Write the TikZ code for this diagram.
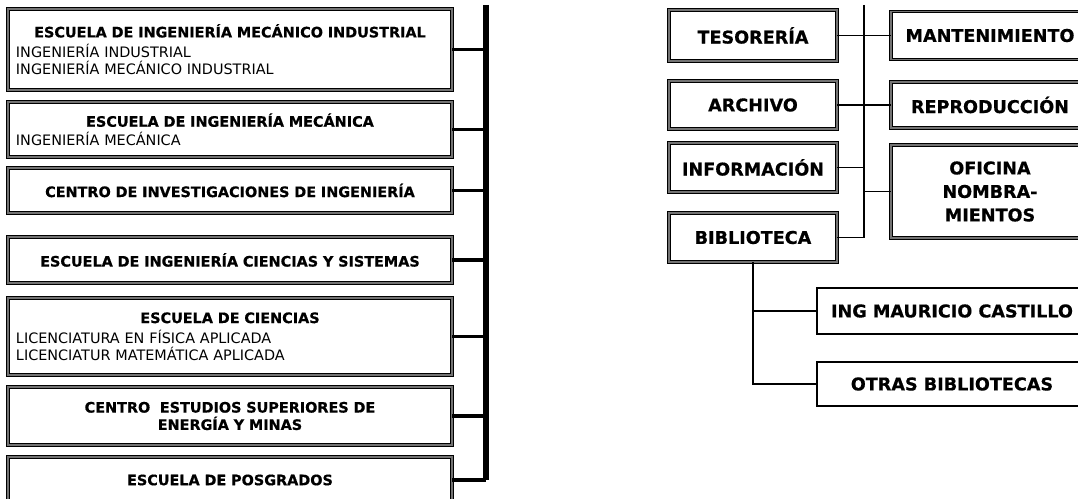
\documentclass[tikz,border=0pt]{standalone}
\usepackage{fontspec}
\setmainfont{DejaVu Sans}[BoldFeatures={FakeBold=0.6}]
\newlength\pxu
\setlength\pxu{0.75pt}
\begin{document}
\begin{tikzpicture}[x=0.75pt,y=-0.75pt,
  dbox/.style={draw=black, line width=0.7pt, double=black!55, double distance=1.4pt, fill=white, inner sep=0pt},
  lbox/.style={dbox, minimum width=444\pxu, text width=428\pxu, align=left, font=\fontsize{10.8}{13}\selectfont},
  rbox/.style={dbox, minimum width=168\pxu, align=center, font=\fontsize{13.2}{17.6}\selectfont\bfseries},
  r2box/.style={dbox, minimum width=198\pxu, align=center, font=\fontsize{13.2}{17.6}\selectfont\bfseries},
  sbox/.style={draw=black, line width=1.3pt, fill=white, minimum width=270\pxu, align=center, font=\fontsize{13.2}{17.6}\selectfont\bfseries},
  trunk/.style={draw=black, line width=3.8pt},
  conn/.style={draw=black, line width=2.6pt},
  thin/.style={draw=black, line width=1.4pt}]
\useasboundingbox (0,0) rectangle (1078,499);
\clip (0,0) rectangle (1078,499);
\fill[white] (0,0) rectangle (1078,499);
% left column
\node[lbox, minimum height=81\pxu] (l1) at (230,49.5) {\makebox[\hsize][c]{\bfseries ESCUELA DE INGENIERÍA MECÁNICO INDUSTRIAL}\\[2pt]INGENIERÍA INDUSTRIAL\\INGENIERÍA MECÁNICO INDUSTRIAL};
\node[lbox, minimum height=55\pxu] (l2) at (230,129.5) {\makebox[\hsize][c]{\bfseries ESCUELA DE INGENIERÍA MECÁNICA}\\[1pt]INGENIERÍA MECÁNICA};
\node[lbox, minimum height=45\pxu, align=center] (l3) at (230,190.5) {\bfseries CENTRO DE INVESTIGACIONES DE INGENIERÍA};
\node[lbox, minimum height=46\pxu, align=center] (l4) at (230,260) {\bfseries ESCUELA DE INGENIERÍA CIENCIAS Y SISTEMAS};
\node[lbox, minimum height=77\pxu] (l5) at (230,336.5) {\makebox[\hsize][c]{\bfseries ESCUELA DE CIENCIAS}\\[2pt]LICENCIATURA EN FÍSICA APLICADA\\LICENCIATUR MATEMÁTICA APLICADA};
\node[lbox, minimum height=58\pxu, align=center] (l6) at (230,416) {\bfseries CENTRO\ \ ESTUDIOS SUPERIORES DE\\\bfseries ENERGÍA Y MINAS};
\node[lbox, minimum height=46\pxu, align=center] (l7) at (230,480) {\bfseries ESCUELA DE POSGRADOS};
\coordinate (ltop) at (486,5);
\draw[trunk] (ltop) -- (ltop |- l7.east);
\draw[conn] (l7.east) -- (l7.east -| ltop);
\foreach \n in {l1,l2,l3,l4,l5,l6} \draw[conn] (\n.east) -- (\n.east -| ltop);
% right part
\node[rbox, minimum height=51\pxu] (tes) at (753,35.5) {TESORERÍA};
\node[rbox, minimum height=48\pxu] (arc) at (753,105) {ARCHIVO};
\node[rbox, minimum height=49\pxu] (inf) at (753,167.5) {INFORMACIÓN};
\node[rbox, minimum height=49\pxu] (bib) at (753,237.5) {BIBLIOTECA};
\node[r2box, minimum height=48\pxu] (man) at (990,35.5) {MANTENIMIENTO};
\node[r2box, minimum height=46\pxu] (rep) at (990,105) {REPRODUCCIÓN};
\node[r2box, minimum height=93\pxu] (ofi) at (990,191.5) {OFICINA\\NOMBRA-\\MIENTOS};
\coordinate (rtop) at (864,5);
\draw[thin] (rtop) -- (rtop |- bib.east) -- (bib.east);
\draw[thin] (tes.east) -- (tes.east -| man.west);
\draw[thin] (arc.east) -- (arc.east -| rep.west);
\draw[thin] (inf.east) -- (inf.east -| rtop);
\draw[thin] (ofi.west) -- (ofi.west -| rtop);
\node[sbox, minimum height=46\pxu] (ing) at (952,311) {ING MAURICIO CASTILLO};
\node[sbox, minimum height=44\pxu] (otr) at (952,384) {OTRAS BIBLIOTECAS};
\draw[thin] (bib.south) |- (otr.west);
\draw[thin] (ing.west) -- (ing.west -| bib.south);
\end{tikzpicture}
\end{document}
